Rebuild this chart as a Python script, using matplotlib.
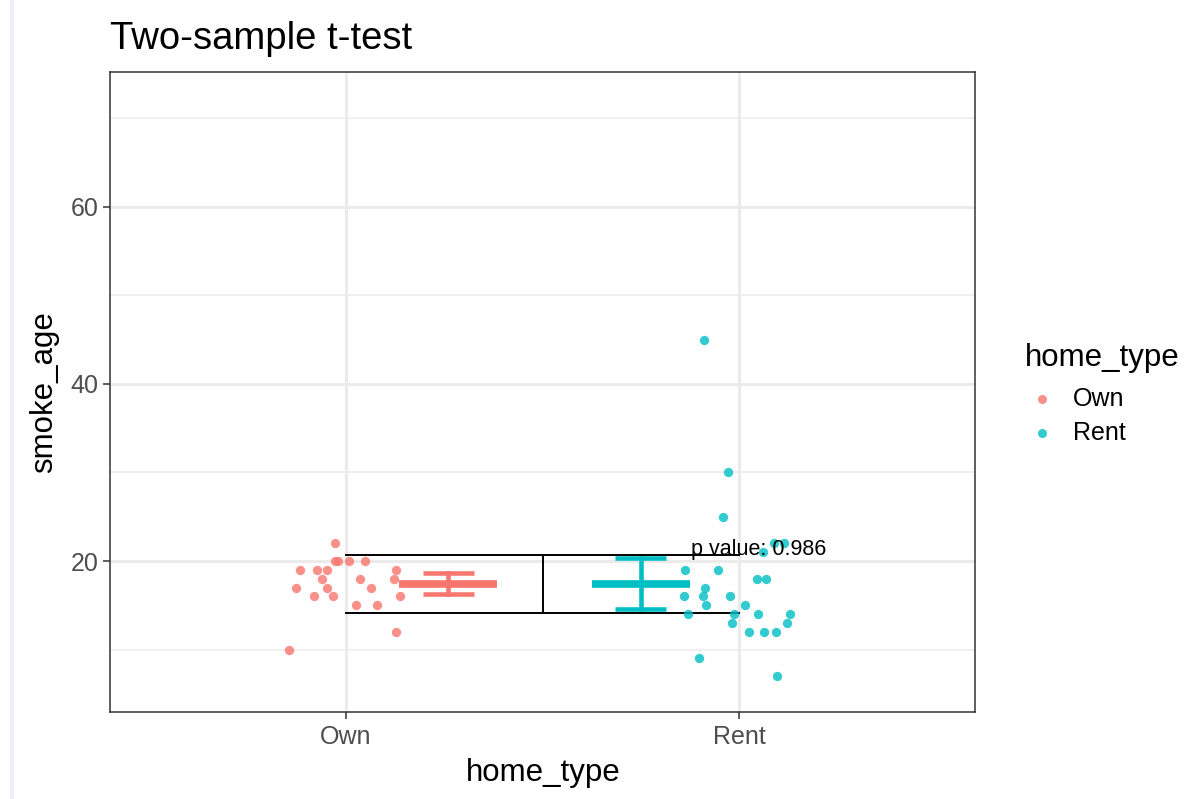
import numpy as np
import matplotlib as m
m.use('Agg')
import matplotlib.pyplot as plt
from matplotlib.lines import Line2D
from matplotlib.patches import Rectangle

# categories
groups = ['Own', 'Rent']
colors = ['#F8766D', '#00BFC4']

# jittered points (x position, smoke_age)
own_x = [0.972, 0.972, 0.980, 1.008, 1.048, 0.883, 0.926, 0.951, 1.127,
         0.940, 1.037, 1.122, 0.872, 0.951, 1.063, 0.920, 0.968, 1.137,
         1.025, 1.079, 1.127, 0.856]
own_y = [22, 20, 20, 20, 20, 19, 19, 19, 19,
         18, 18, 18, 17, 17, 17, 16, 16, 16,
         15, 15, 12, 10]
rent_x = [1.911, 1.973, 1.960, 2.089, 2.114, 2.061, 1.863, 1.947, 2.046,
          2.069, 1.914, 1.860, 1.909, 1.976, 1.917, 2.015, 1.871, 1.987,
          2.048, 2.129, 1.982, 2.123, 2.025, 2.063, 2.093, 1.898, 2.096]
rent_y = [45, 30, 25, 22, 22, 21, 19, 19, 18,
          18, 17, 16, 16, 16, 15, 15, 14, 14,
          14, 14, 13, 13, 12, 12, 12, 9, 7]

# mean and confidence interval per group
means = [17.37, 17.40]
ci_low = [16.27, 14.54]
ci_high = [18.61, 20.31]
summary_x = [1.26, 1.75]

# comparison bracket
bracket_top = 20.68
bracket_bottom = 14.16
p_label = 'p value: 0.986'

W, H = 1204, 799


def main():
  plt.rcParams['font.family'] = ['Liberation Sans', 'DejaVu Sans']
  fig = plt.figure(figsize=(W / 100.0, H / 100.0), dpi=100)
  ax = fig.add_axes([110.0 / W, 1 - 712.0 / H, 865.0 / W, 640.0 / H])

  ax.set_xlim(0.4, 2.6)
  ax.set_ylim(2.94, 75.25)

  # grid like theme_bw
  for yv in [10, 30, 50, 70]:
    ax.axhline(yv, color='#EBEBEB', lw=1.1, zorder=0)
  for yv in [20, 40, 60]:
    ax.axhline(yv, color='#EBEBEB', lw=2.2, zorder=0)
  for xv in [1, 2]:
    ax.axvline(xv, color='#EBEBEB', lw=2.2, zorder=0)

  ax.scatter(own_x, own_y, s=45, color=colors[0], alpha=0.8, lw=0, zorder=3)
  ax.scatter(rent_x, rent_y, s=45, color=colors[1], alpha=0.8, lw=0, zorder=3)

  # bracket
  ax.plot([1, 2], [bracket_top, bracket_top], color='black', lw=1.4, zorder=2)
  ax.plot([1, 2], [bracket_bottom, bracket_bottom], color='black', lw=1.4, zorder=2)
  ax.plot([1.5, 1.5], [bracket_bottom, bracket_top], color='black', lw=1.4, zorder=2)

  # mean + CI
  for i in range(2):
    c = colors[i]
    xc = summary_x[i]
    ax.plot([xc - 0.124, xc + 0.124], [means[i], means[i]], color=c, lw=5.5,
            solid_capstyle='butt', zorder=4)
    ax.plot([xc, xc], [ci_low[i], ci_high[i]], color=c, lw=3.3, zorder=4)
    for yv in [ci_low[i], ci_high[i]]:
      ax.plot([xc - 0.065, xc + 0.065], [yv, yv], color=c, lw=3.3,
              solid_capstyle='butt', zorder=4)

  ax.text(1.877, 21.3, p_label, fontsize=15.5, color='black',
          ha='left', va='center', zorder=5)

  ax.set_xticks([1, 2])
  ax.set_xticklabels(groups)
  ax.set_yticks([20, 40, 60])
  ax.tick_params(axis='both', labelsize=18, labelcolor='#4D4D4D',
                 color='#333333', length=5, width=1.1)
  ax.tick_params(axis='x', pad=4)
  for sp in ax.spines.values():
    sp.set_color('#333333')
    sp.set_linewidth(1.1)

  fig.text(110.0 / W, 1 - 49.3 / H, 'Two-sample t-test', fontsize=27.5,
           ha='left', va='baseline')
  fig.text(543.0 / W, 1 - 773.0 / H, 'home_type', fontsize=22.5,
           ha='center', va='center')
  fig.text(44.0 / W, 1 - 392.0 / H, 'smoke_age', fontsize=22.5,
           ha='center', va='center', rotation=90)

  # legend
  fig.text(1025.0 / W, 1 - 366.0 / H, 'home_type', fontsize=22.5,
           ha='left', va='baseline')
  for i, (lab, yy) in enumerate(zip(groups, [399.0, 433.0])):
    fig.add_artist(Line2D([1041.7 / W], [1 - yy / H], marker='o', markersize=6.5,
                          color=colors[i], alpha=0.8, mew=0, ls='none',
                          transform=fig.transFigure))
    fig.text(1073.0 / W, 1 - yy / H, lab, fontsize=18, ha='left', va='center')

  # screenshot edge strip
  fig.add_artist(Rectangle((10.0 / W, 0), 4.0 / W, 1, color='#EAF0F6',
                           transform=fig.transFigure, lw=0))

  plt.savefig('out.png', dpi=100)


if __name__ == '__main__':
  main()
